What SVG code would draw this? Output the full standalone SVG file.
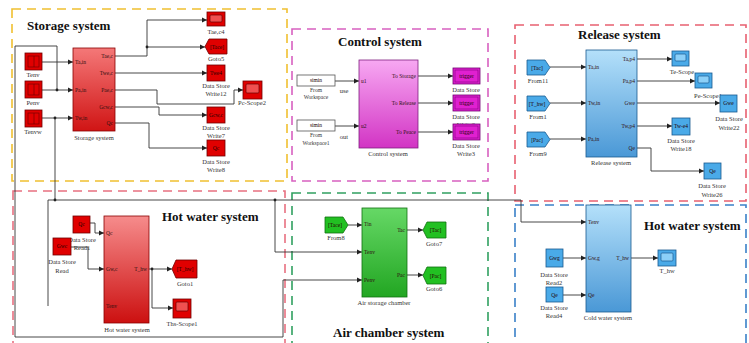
<svg xmlns="http://www.w3.org/2000/svg" width="749" height="343" viewBox="0 0 749 343">
<defs>
<marker id="ah" markerWidth="6" markerHeight="6" refX="5" refY="3" orient="auto" markerUnits="userSpaceOnUse"><path d="M0,0.5 L5,3 L0,5.5 z" fill="#222"/></marker>
<linearGradient id="gRed" x1="0" y1="0" x2="0" y2="1"><stop offset="0" stop-color="#f47878"/><stop offset="1" stop-color="#d01414"/></linearGradient>
<linearGradient id="gRed2" x1="0" y1="0" x2="0" y2="1"><stop offset="0" stop-color="#f68c8c"/><stop offset="1" stop-color="#cc1010"/></linearGradient>
<linearGradient id="gPink" x1="0" y1="0" x2="0" y2="1"><stop offset="0" stop-color="#f7a8f2"/><stop offset="1" stop-color="#d234c4"/></linearGradient>
<linearGradient id="gBlue" x1="0" y1="0" x2="0" y2="1"><stop offset="0" stop-color="#b4e0fa"/><stop offset="1" stop-color="#4a98d6"/></linearGradient>
<linearGradient id="gGreen" x1="0" y1="0" x2="0" y2="1"><stop offset="0" stop-color="#66d866"/><stop offset="1" stop-color="#22a622"/></linearGradient>
</defs>
<style>
.frame{fill:none;stroke-width:1.6;stroke-dasharray:9,6}
.w{fill:none;stroke:#333;stroke-width:0.9}
.wa{fill:none;stroke:#333;stroke-width:0.9;marker-end:url(#ah)}
.dot{fill:#222}
.p{font-family:"Liberation Serif",serif;font-size:5.5px;fill:#301010}
.pr{font-family:"Liberation Serif",serif;font-size:5.5px;fill:#301010;text-anchor:end}
.lbl{font-family:"Liberation Serif",serif;font-size:6.5px;fill:#333;text-anchor:middle}
.in{font-family:"Liberation Serif",serif;font-size:5.5px;fill:#200;text-anchor:middle}
.title{font-family:"Liberation Serif",serif;font-size:13px;font-weight:bold;fill:#111}
.rb{fill:#e00000;stroke:#700000;stroke-width:0.8}
.bb{fill:#4aaae8;stroke:#1a5a90;stroke-width:0.8}
.gb{fill:#22c022;stroke:#107010;stroke-width:0.8}
.mb{fill:#e020d0;stroke:#700070;stroke-width:0.8}
.scrR{fill:#f05050;stroke:#600;stroke-width:0.7}
.scrB{fill:#8cd0f8;stroke:#1a5a90;stroke-width:0.7}
</style>
<rect width="749" height="343" fill="#ffffff"/>

<g id="frames">
<rect class="frame" x="12" y="9" width="275" height="172" stroke="#f0c030"/>
<rect class="frame" x="292" y="29" width="196" height="152" stroke="#d860c0"/>
<rect class="frame" x="515" y="25" width="231" height="176" stroke="#e86070"/>
<rect class="frame" x="13" y="191" width="272" height="160" stroke="#e87080"/>
<rect class="frame" x="292" y="193" width="196" height="160" stroke="#30a060"/>
<rect class="frame" x="515" y="205" width="231" height="150" stroke="#3a80c8"/>
</g>

<g id="titles">
<text class="title" x="27" y="30">Storage system</text>
<text class="title" x="338" y="46">Control system</text>
<text class="title" x="578" y="39">Release system</text>
<text class="title" x="162" y="221">Hot water system</text>
<text class="title" x="644" y="230">Hot water system</text>
<text class="title" x="333" y="337">Air chamber system</text>
</g>

<g id="connectors">
<path class="wa" d="M42,62 H73"/>
<path class="wa" d="M42,90 H73"/>
<path class="wa" d="M42,118 H73"/>
<path class="wa" d="M57,90 V46 H15 V337 H283 V280 H362"/>
<path class="w" d="M55,118 V200"/>
<path class="wa" d="M48,306 V200 H521 V222 H586"/>
<path class="wa" d="M275,200 V252 H362"/>
<path class="wa" d="M115,56 H147 V20 H207"/>
<path class="wa" d="M147,47 H205"/>
<path class="wa" d="M115,73 H207"/>
<path class="wa" d="M115,90 H157 V104 H234 V90 H243"/>
<path class="wa" d="M115,107 H159 V115 H207"/>
<path class="wa" d="M115,123 H149 V148 H207"/>
<path class="wa" d="M335,81 H359"/>
<path class="wa" d="M335,126 H359"/>
<path class="wa" d="M418,76 H453"/>
<path class="wa" d="M418,103 H453"/>
<path class="wa" d="M418,132 H453"/>
<path class="wa" d="M550,67 H586"/>
<path class="wa" d="M550,103 H586"/>
<path class="wa" d="M550,139 H586"/>
<path class="wa" d="M637,59 H672"/>
<path class="wa" d="M637,81 H695"/>
<path class="wa" d="M637,103 H720"/>
<path class="wa" d="M637,126 H672"/>
<path class="wa" d="M637,148 H651 V171 H704"/>
<path class="wa" d="M90,223 H95 V233 H104"/>
<path class="wa" d="M71,247 H88 V269 H104"/>
<path class="wa" d="M149,269 H172"/>
<path class="wa" d="M152,269 V308 H173"/>
<path class="wa" d="M348,225 H362"/>
<path class="wa" d="M407,230 H423"/>
<path class="wa" d="M407,275 H423"/>
<path class="wa" d="M563,258 H586"/>
<path class="wa" d="M563,295 H586"/>
<path class="wa" d="M631,258 H658"/>
<circle class="dot" cx="57" cy="90" r="1.4"/>
<circle class="dot" cx="55" cy="118" r="1.4"/>
<circle class="dot" cx="55" cy="200" r="1.4"/>
<circle class="dot" cx="275" cy="200" r="1.4"/>
<circle class="dot" cx="147" cy="47" r="1.4"/>
<circle class="dot" cx="152" cy="269" r="1.4"/>
</g>

<!-- Storage system -->
<g id="tenv"><rect class="rb" x="25" y="53" width="17" height="17"/><rect x="28" y="56" width="11" height="11" fill="none" stroke="#700" stroke-width="0.7"/><line x1="34" y1="56" x2="34" y2="67" stroke="#700" stroke-width="0.7"/><text class="lbl" x="33" y="77">Tenv</text></g>
<g id="penv"><rect class="rb" x="25" y="81" width="17" height="17"/><rect x="28" y="84" width="11" height="11" fill="none" stroke="#700" stroke-width="0.7"/><line x1="34" y1="84" x2="34" y2="95" stroke="#700" stroke-width="0.7"/><text class="lbl" x="33" y="105">Penv</text></g>
<g id="tenvw"><rect class="rb" x="25" y="110" width="17" height="17"/><rect x="28" y="113" width="11" height="11" fill="none" stroke="#700" stroke-width="0.7"/><line x1="34" y1="113" x2="34" y2="124" stroke="#700" stroke-width="0.7"/><text class="lbl" x="33" y="134">Tenvw</text></g>
<g id="storage-block"><rect x="73" y="48" width="42" height="83" fill="url(#gRed)" stroke="#8b0000" stroke-width="0.8"/>
<text class="p" x="75" y="64">Ta,in</text><text class="p" x="75" y="92">Pa,in</text><text class="p" x="75" y="120">Tw,in</text>
<text class="pr" x="113" y="58">Tae,c</text><text class="pr" x="113" y="75">Twe,c</text><text class="pr" x="113" y="92">Pae,c</text><text class="pr" x="113" y="109">Gcw,c</text><text class="pr" x="113" y="125">Qc</text>
<text class="lbl" x="94" y="140">Storage system</text></g>
<g id="tae-c4"><rect class="rb" x="207" y="12" width="18" height="14"/><rect class="scrR" x="210" y="15" width="12" height="7" rx="1"/><text class="lbl" x="216" y="34">Tae,c4</text></g>
<g id="goto5"><polygon class="rb" points="205,46.5 209,39 227,39 227,54 209,54"/><text class="in" x="217" y="48.5">[Tace]</text><text class="lbl" x="216" y="61">Goto5</text></g>
<g id="dsw12"><rect class="rb" x="207" y="65" width="18" height="16"/><text class="in" x="216" y="75">Twe4</text><text class="lbl" x="216" y="88">Data Store</text><text class="lbl" x="216" y="96">Write12</text></g>
<g id="pc-scope2"><rect class="rb" x="243" y="81" width="19" height="18"/><rect class="scrR" x="246" y="84" width="13" height="9" rx="1"/><text class="lbl" x="252" y="105">Pc-Scope2</text></g>
<g id="dsw7"><rect class="rb" x="207" y="107" width="18" height="16"/><text class="in" x="216" y="117">Gcw,c</text><text class="lbl" x="216" y="130">Data Store</text><text class="lbl" x="216" y="138">Write7</text></g>
<g id="dsw8"><rect class="rb" x="207" y="140" width="18" height="16"/><text class="in" x="216" y="150">Qc</text><text class="lbl" x="216" y="164">Data Store</text><text class="lbl" x="216" y="172">Write8</text></g>

<!-- Control system -->
<g id="fw"><rect x="297" y="75" width="38" height="11" fill="#fff" stroke="#555" stroke-width="0.8"/><text class="in" x="316" y="82" fill="#666">simin</text><text class="lbl" x="316" y="92" style="font-size:5.5px">From</text><text class="lbl" x="316" y="99" style="font-size:5.5px">Workspace</text><text class="lbl" x="344" y="93">use</text></g>
<g id="fw1"><rect x="297" y="120" width="38" height="11" fill="#fff" stroke="#555" stroke-width="0.8"/><text class="in" x="316" y="127" fill="#666">simin</text><text class="lbl" x="316" y="137" style="font-size:5.5px">From</text><text class="lbl" x="316" y="145" style="font-size:5.5px">Workspace1</text><text class="lbl" x="344" y="139">out</text></g>
<g id="control-block"><rect x="359" y="60" width="59" height="88" fill="url(#gPink)" stroke="#802080" stroke-width="0.8"/>
<text class="p" x="361" y="83">u1</text><text class="p" x="361" y="128">u2</text>
<text class="pr" x="416" y="78">To Storage</text><text class="pr" x="416" y="105">To Release</text><text class="pr" x="416" y="134">To Peace</text>
<text class="lbl" x="388" y="156">Control system</text></g>
<g id="dsw1"><rect class="mb" x="453" y="68" width="27" height="16"/><rect x="455" y="70" width="23" height="12" fill="none" stroke="#800080" stroke-width="0.6"/><text class="in" x="466.5" y="78">trigger</text><text class="lbl" x="466" y="92">Data Store</text><text class="lbl" x="466" y="100">Write1</text></g>
<g id="dsw2"><rect class="mb" x="453" y="95" width="27" height="16"/><rect x="455" y="97" width="23" height="12" fill="none" stroke="#800080" stroke-width="0.6"/><text class="in" x="466.5" y="105">trigger</text><text class="lbl" x="466" y="119">Data Store</text><text class="lbl" x="466" y="127">Write2</text></g>
<g id="dsw3"><rect class="mb" x="453" y="124" width="27" height="16"/><rect x="455" y="126" width="23" height="12" fill="none" stroke="#800080" stroke-width="0.6"/><text class="in" x="466.5" y="134">trigger</text><text class="lbl" x="466" y="148">Data Store</text><text class="lbl" x="466" y="156">Write3</text></g>

<!-- Release system -->
<g id="from11"><polygon class="bb" points="527,60 545,60 550,67.5 545,75 527,75"/><text class="in" x="537" y="69.5">[Tac]</text><text class="lbl" x="538" y="83">From11</text></g>
<g id="from1"><polygon class="bb" points="527,96 545,96 550,103.5 545,111 527,111"/><text class="in" x="537" y="105.5">[T_hw]</text><text class="lbl" x="538" y="119">From1</text></g>
<g id="from9"><polygon class="bb" points="527,132 545,132 550,139.5 545,147 527,147"/><text class="in" x="537" y="141.5">[Pac]</text><text class="lbl" x="538" y="156">From9</text></g>
<g id="release-block"><rect x="586" y="50" width="51" height="107" fill="url(#gBlue)" stroke="#1a5a90" stroke-width="0.8"/>
<text class="p" x="588" y="69">Ta,in</text><text class="p" x="588" y="105">Tw,in</text><text class="p" x="588" y="141">Pa,in</text>
<text class="pr" x="635" y="61">Ta,p4</text><text class="pr" x="635" y="83">Pa,p4</text><text class="pr" x="635" y="105">Gwe</text><text class="pr" x="635" y="128">Tw,p4</text><text class="pr" x="635" y="150">Qe</text>
<text class="lbl" x="611" y="165">Release system</text></g>
<g id="te-scope"><rect class="bb" x="672" y="51" width="17" height="15"/><rect class="scrB" x="675" y="54" width="11" height="7" rx="1"/><text class="lbl" x="682" y="74">Te-Scope</text></g>
<g id="pe-scope1"><rect class="bb" x="695" y="73" width="17" height="15"/><rect class="scrB" x="698" y="76" width="11" height="7" rx="1"/><text class="lbl" x="708" y="98">Pe-Scope1</text></g>
<g id="dsw22"><rect class="bb" x="720" y="95" width="17" height="17"/><text class="in" x="728.5" y="105">Gwe</text><text class="lbl" x="729" y="121">Data Store</text><text class="lbl" x="729" y="130">Write22</text></g>
<g id="dsw18"><rect class="bb" x="672" y="118" width="18" height="17"/><text class="in" x="681" y="128">Tw-e4</text><text class="lbl" x="681" y="143">Data Store</text><text class="lbl" x="681" y="151">Write18</text></g>
<g id="dsw26"><rect class="bb" x="704" y="163" width="17" height="16"/><text class="in" x="712.5" y="173">Qe</text><text class="lbl" x="712" y="188">Data Store</text><text class="lbl" x="712" y="197">Write26</text></g>

<!-- Hot water system (left) -->
<g id="dsr1"><rect class="rb" x="73" y="216" width="17" height="17"/><text class="in" x="81.5" y="226">Qc</text><text class="lbl" x="82" y="242">Data Store</text><text class="lbl" x="82" y="250">Read1</text></g>
<g id="dsr"><rect class="rb" x="53" y="238" width="18" height="17"/><text class="in" x="62" y="248">Gwc</text><text class="lbl" x="62" y="264">Data Store</text><text class="lbl" x="62" y="273">Read</text></g>
<g id="hot-water-block"><rect x="104" y="216" width="45" height="107" fill="url(#gRed2)" stroke="#8b0000" stroke-width="0.8"/>
<text class="p" x="106" y="235">Qc</text><text class="p" x="106" y="271">Gw,c</text><text class="p" x="106" y="308">Tenv</text>
<text class="pr" x="147" y="271">T_hw</text>
<text class="lbl" x="127" y="332">Hot water system</text></g>
<g id="goto1"><polygon class="rb" points="172,269 176,260 197,260 197,278 176,278"/><text class="in" x="185" y="271">[T_hw]</text><text class="lbl" x="185" y="286">Goto1</text></g>
<g id="ths-scope1"><rect class="rb" x="173" y="299" width="18" height="19"/><rect class="scrR" x="176" y="302" width="12" height="9" rx="1"/><text class="lbl" x="182" y="326">Ths-Scope1</text></g>

<!-- Air chamber system -->
<g id="from8"><polygon class="gb" points="325,217 343,217 348,225 343,233 325,233"/><text class="in" x="335" y="227">[Tace]</text><text class="lbl" x="336" y="240">From8</text></g>
<g id="air-block"><rect x="362" y="208" width="45" height="89" fill="url(#gGreen)" stroke="#107010" stroke-width="0.8"/>
<text class="p" x="364" y="226">Tin</text><text class="p" x="364" y="254">Tenv</text><text class="p" x="364" y="282">Penv</text>
<text class="pr" x="405" y="232">Tac</text><text class="pr" x="405" y="277">Pac</text>
<text class="lbl" x="384" y="305">Air storage chamber</text></g>
<g id="goto7"><polygon class="gb" points="423,230 427,222 446,222 446,238 427,238"/><text class="in" x="435.5" y="232">[Tac]</text><text class="lbl" x="434" y="246">Goto7</text></g>
<g id="goto6"><polygon class="gb" points="423,275.5 427,267 446,267 446,284 427,284"/><text class="in" x="435.5" y="277.5">[Pac]</text><text class="lbl" x="434" y="291">Goto6</text></g>

<!-- Hot water system (right) -->
<g id="dsr2"><rect class="bb" x="546" y="249" width="17" height="18"/><text class="in" x="554.5" y="260">Gwg</text><text class="lbl" x="554" y="277">Data Store</text><text class="lbl" x="554" y="285">Read2</text></g>
<g id="dsr4"><rect class="bb" x="546" y="287" width="17" height="15"/><text class="in" x="554.5" y="297">Qe</text><text class="lbl" x="554" y="310">Data Store</text><text class="lbl" x="554" y="318">Read4</text></g>
<g id="cold-water-block"><rect x="586" y="205" width="45" height="107" fill="url(#gBlue)" stroke="#1a5a90" stroke-width="0.8"/>
<text class="p" x="588" y="224">Tenv</text><text class="p" x="588" y="260">Gw,g</text><text class="p" x="588" y="297">Qe</text>
<text class="pr" x="629" y="260">T_hw</text>
<text class="lbl" x="608" y="320">Cold water system</text></g>
<g id="thw-scope"><rect class="bb" x="658" y="250" width="18" height="16"/><rect class="scrB" x="661" y="253" width="12" height="8" rx="1"/><text class="lbl" x="667" y="273">T_hw</text></g>
</svg>
